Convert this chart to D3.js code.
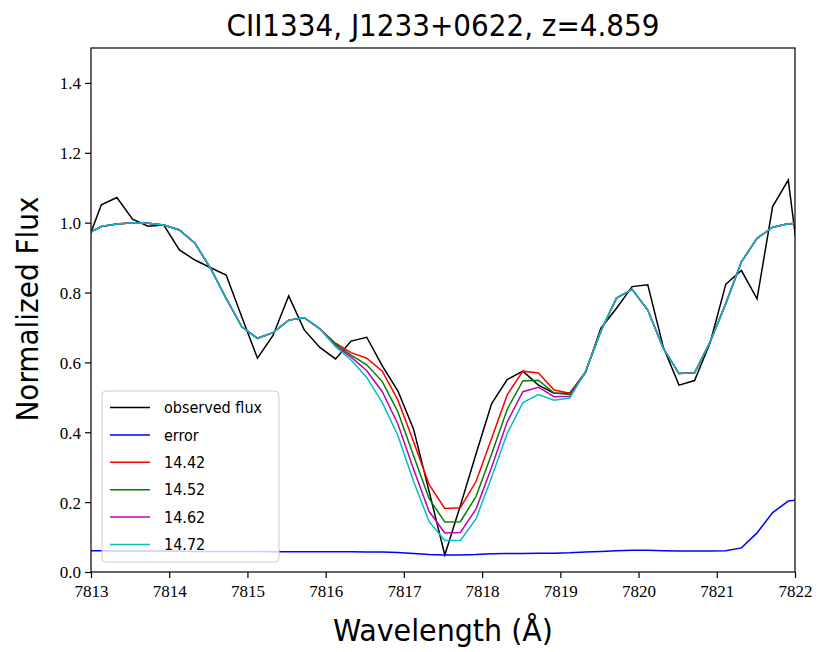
<!DOCTYPE html>
<html>
<head>
<meta charset="utf-8">
<script src="https://cdn.jsdelivr.net/npm/d3@7"></script>
<style>
  html, body { margin: 0; padding: 0; background: #fff; }
  svg { display: block; }
</style>
</head>
<body>
<svg id="chart" width="818" height="652"></svg>
<script>
// Wavelength grid (Å) of the spectrum pixels
const wavelength = [
  7812.932, 7813.132, 7813.331, 7813.531, 7813.730, 7813.930, 7814.130, 7814.329,
  7814.529, 7814.728, 7814.928, 7815.128, 7815.327, 7815.527, 7815.726, 7815.926,
  7816.126, 7816.325, 7816.525, 7816.724, 7816.924, 7817.124, 7817.323, 7817.523,
  7817.722, 7817.922, 7818.122, 7818.321, 7818.521, 7818.720, 7818.920, 7819.120,
  7819.319, 7819.519, 7819.718, 7819.918, 7820.118, 7820.317, 7820.517, 7820.716,
  7820.916, 7821.116, 7821.315, 7821.515, 7821.714, 7821.914, 7822.114
];

// Observed normalized flux
const observedFlux = [
  0.932, 1.051, 1.072, 1.010, 0.990, 0.993, 0.922, 0.893, 0.871, 0.850,
  0.730, 0.612, 0.677, 0.790, 0.693, 0.643, 0.610, 0.661, 0.672, 0.590,
  0.518, 0.409, 0.230, 0.049, 0.190, 0.338, 0.482, 0.551, 0.575, 0.535,
  0.512, 0.512, 0.569, 0.698, 0.755, 0.817, 0.822, 0.643, 0.535, 0.548,
  0.657, 0.824, 0.863, 0.782, 1.046, 1.122, 0.770
];

// Flux uncertainty
const errorFlux = [
  0.061, 0.061, 0.060, 0.060, 0.060, 0.060, 0.060, 0.059, 0.059, 0.059,
  0.059, 0.059, 0.058, 0.058, 0.058, 0.058, 0.058, 0.058, 0.057, 0.057,
  0.056, 0.053, 0.050, 0.049, 0.049, 0.050, 0.052, 0.053, 0.053, 0.054,
  0.054, 0.055, 0.057, 0.059, 0.061, 0.062, 0.062, 0.061, 0.060, 0.060,
  0.060, 0.061, 0.069, 0.112, 0.170, 0.203, 0.208
];

// Model profiles for column densities log N = 14.42, 14.52, 14.62, 14.72
const model1442 = [
  0.966, 0.989, 0.996, 1.000, 0.998, 0.993, 0.979, 0.941, 0.869, 0.783,
  0.702, 0.669, 0.685, 0.721, 0.728, 0.696, 0.655, 0.628, 0.612, 0.575,
  0.492, 0.373, 0.250, 0.182, 0.184, 0.259, 0.383, 0.507, 0.575, 0.570,
  0.521, 0.512, 0.572, 0.690, 0.784, 0.809, 0.750, 0.640, 0.568, 0.570,
  0.659, 0.769, 0.888, 0.955, 0.987, 0.997, 0.999
];
const model1452 = [
  0.966, 0.989, 0.996, 1.000, 0.998, 0.993, 0.979, 0.941, 0.869, 0.783,
  0.702, 0.669, 0.685, 0.721, 0.728, 0.696, 0.652, 0.621, 0.593, 0.545,
  0.458, 0.333, 0.210, 0.143, 0.144, 0.216, 0.338, 0.466, 0.547, 0.549,
  0.512, 0.508, 0.572, 0.690, 0.784, 0.809, 0.750, 0.640, 0.568, 0.570,
  0.659, 0.769, 0.888, 0.955, 0.987, 0.997, 0.999
];
const model1462 = [
  0.966, 0.989, 0.996, 1.000, 0.998, 0.993, 0.979, 0.941, 0.869, 0.783,
  0.702, 0.669, 0.685, 0.721, 0.728, 0.696, 0.648, 0.615, 0.576, 0.516,
  0.423, 0.294, 0.173, 0.112, 0.113, 0.180, 0.300, 0.430, 0.516, 0.529,
  0.502, 0.503, 0.572, 0.690, 0.784, 0.809, 0.750, 0.640, 0.568, 0.570,
  0.659, 0.769, 0.888, 0.955, 0.987, 0.997, 0.999
];
const model1472 = [
  0.966, 0.989, 0.996, 1.000, 0.998, 0.993, 0.979, 0.941, 0.869, 0.783,
  0.702, 0.669, 0.685, 0.721, 0.728, 0.696, 0.645, 0.607, 0.557, 0.485,
  0.390, 0.259, 0.144, 0.090, 0.090, 0.152, 0.271, 0.397, 0.485, 0.508,
  0.492, 0.498, 0.572, 0.690, 0.784, 0.809, 0.750, 0.640, 0.568, 0.570,
  0.659, 0.769, 0.888, 0.955, 0.987, 0.997, 0.999
];

const xTicks = [7813, 7814, 7815, 7816, 7817, 7818, 7819, 7820, 7821, 7822];
const yTicks = [0.0, 0.2, 0.4, 0.6, 0.8, 1.0, 1.2, 1.4];

const seriesList = [
  { label: "observed flux", values: observedFlux, color: "#000000" },
  { label: "error",         values: errorFlux,    color: "#0000ff" },
  { label: "14.42",         values: model1442,    color: "#ff0000" },
  { label: "14.52",         values: model1452,    color: "#008000" },
  { label: "14.62",         values: model1462,    color: "#bf00bf" },
  { label: "14.72",         values: model1472,    color: "#00bfbf" }
];

const svg = d3.select("#chart");
const margin = { left: 91, right: 23, top: 48, bottom: 80 };
const W = 818, H = 652;
const plotW = W - margin.left - margin.right;
const plotH = H - margin.top - margin.bottom;

const x = d3.scaleLinear().domain([7813, 7822]).range([margin.left, margin.left + plotW]);
const y = d3.scaleLinear().domain([0, 1.5]).range([margin.top + plotH, margin.top]);

svg.append("defs").append("clipPath").attr("id", "plotClip")
  .append("rect")
  .attr("x", margin.left).attr("y", margin.top)
  .attr("width", plotW).attr("height", plotH);

const lineGen = d3.line()
  .x((d, i) => x(wavelength[i]))
  .y(d => y(d));

const lines = svg.append("g").attr("clip-path", "url(#plotClip)");
seriesList.forEach(s => {
  lines.append("path")
    .datum(s.values)
    .attr("fill", "none")
    .attr("stroke", s.color)
    .attr("stroke-width", 1.5)
    .attr("stroke-linejoin", "miter")
    .attr("d", lineGen);
});

// Axes
const serif = "'Liberation Serif', 'DejaVu Serif', serif";
const xAxis = svg.append("g")
  .attr("transform", `translate(0,${margin.top + plotH})`)
  .call(d3.axisBottom(x).tickValues(xTicks).tickFormat(d3.format("d")).tickSize(6).tickSizeOuter(0));
const yAxis = svg.append("g")
  .attr("transform", `translate(${margin.left},0)`)
  .call(d3.axisLeft(y).tickValues(yTicks).tickFormat(d3.format(".1f")).tickSize(6).tickSizeOuter(0));

[xAxis, yAxis].forEach(g => {
  g.select(".domain").remove();
  g.selectAll(".tick line").attr("stroke", "#000").attr("stroke-width", 1.2);
  g.selectAll(".tick text").attr("fill", "#000")
    .style("font-family", serif).style("font-size", "17px");
});
xAxis.selectAll(".tick text").attr("dy", "0.95em");
yAxis.selectAll(".tick text").attr("x", -10).attr("dy", "0.35em");

// Frame
svg.append("rect")
  .attr("x", margin.left).attr("y", margin.top)
  .attr("width", plotW).attr("height", plotH)
  .attr("fill", "none").attr("stroke", "#000").attr("stroke-width", 1.2);

// Title and axis labels
const sans = "'DejaVu Sans Condensed', 'Liberation Sans Narrow', 'Open Sans', sans-serif";
svg.append("text")
  .attr("x", margin.left + plotW / 2).attr("y", 36)
  .attr("text-anchor", "middle")
  .style("font-family", sans).style("font-size", "31px")
  .attr("textLength", 433).attr("lengthAdjust", "spacingAndGlyphs")
  .text("CII1334, J1233+0622, z=4.859");

svg.append("text")
  .attr("x", margin.left + plotW / 2).attr("y", 641)
  .attr("text-anchor", "middle")
  .style("font-family", sans).style("font-size", "31px")
  .attr("textLength", 220).attr("lengthAdjust", "spacingAndGlyphs")
  .text("Wavelength (Å)");

svg.append("text")
  .attr("transform", `translate(38,309) rotate(-90)`)
  .attr("text-anchor", "middle")
  .style("font-family", sans).style("font-size", "31px")
  .attr("textLength", 225).attr("lengthAdjust", "spacingAndGlyphs")
  .text("Normalized Flux");

// Legend
const legend = svg.append("g").attr("transform", "translate(102,391)");
legend.append("rect")
  .attr("x", 0).attr("y", 0).attr("width", 177).attr("height", 171)
  .attr("rx", 4).attr("ry", 4)
  .attr("fill", "#fff").attr("fill-opacity", 0.8)
  .attr("stroke", "#cccccc").attr("stroke-width", 1);
seriesList.forEach((s, i) => {
  const ry = 16.5 + i * 27.4;
  legend.append("line")
    .attr("x1", 8).attr("x2", 48).attr("y1", ry).attr("y2", ry)
    .attr("stroke", s.color).attr("stroke-width", 1.5);
  legend.append("text")
    .attr("x", 62).attr("y", ry).attr("dy", "0.35em")
    .style("font-family", sans).style("font-size", "16px")
    .text(s.label);
});
</script>
</body>
</html>
